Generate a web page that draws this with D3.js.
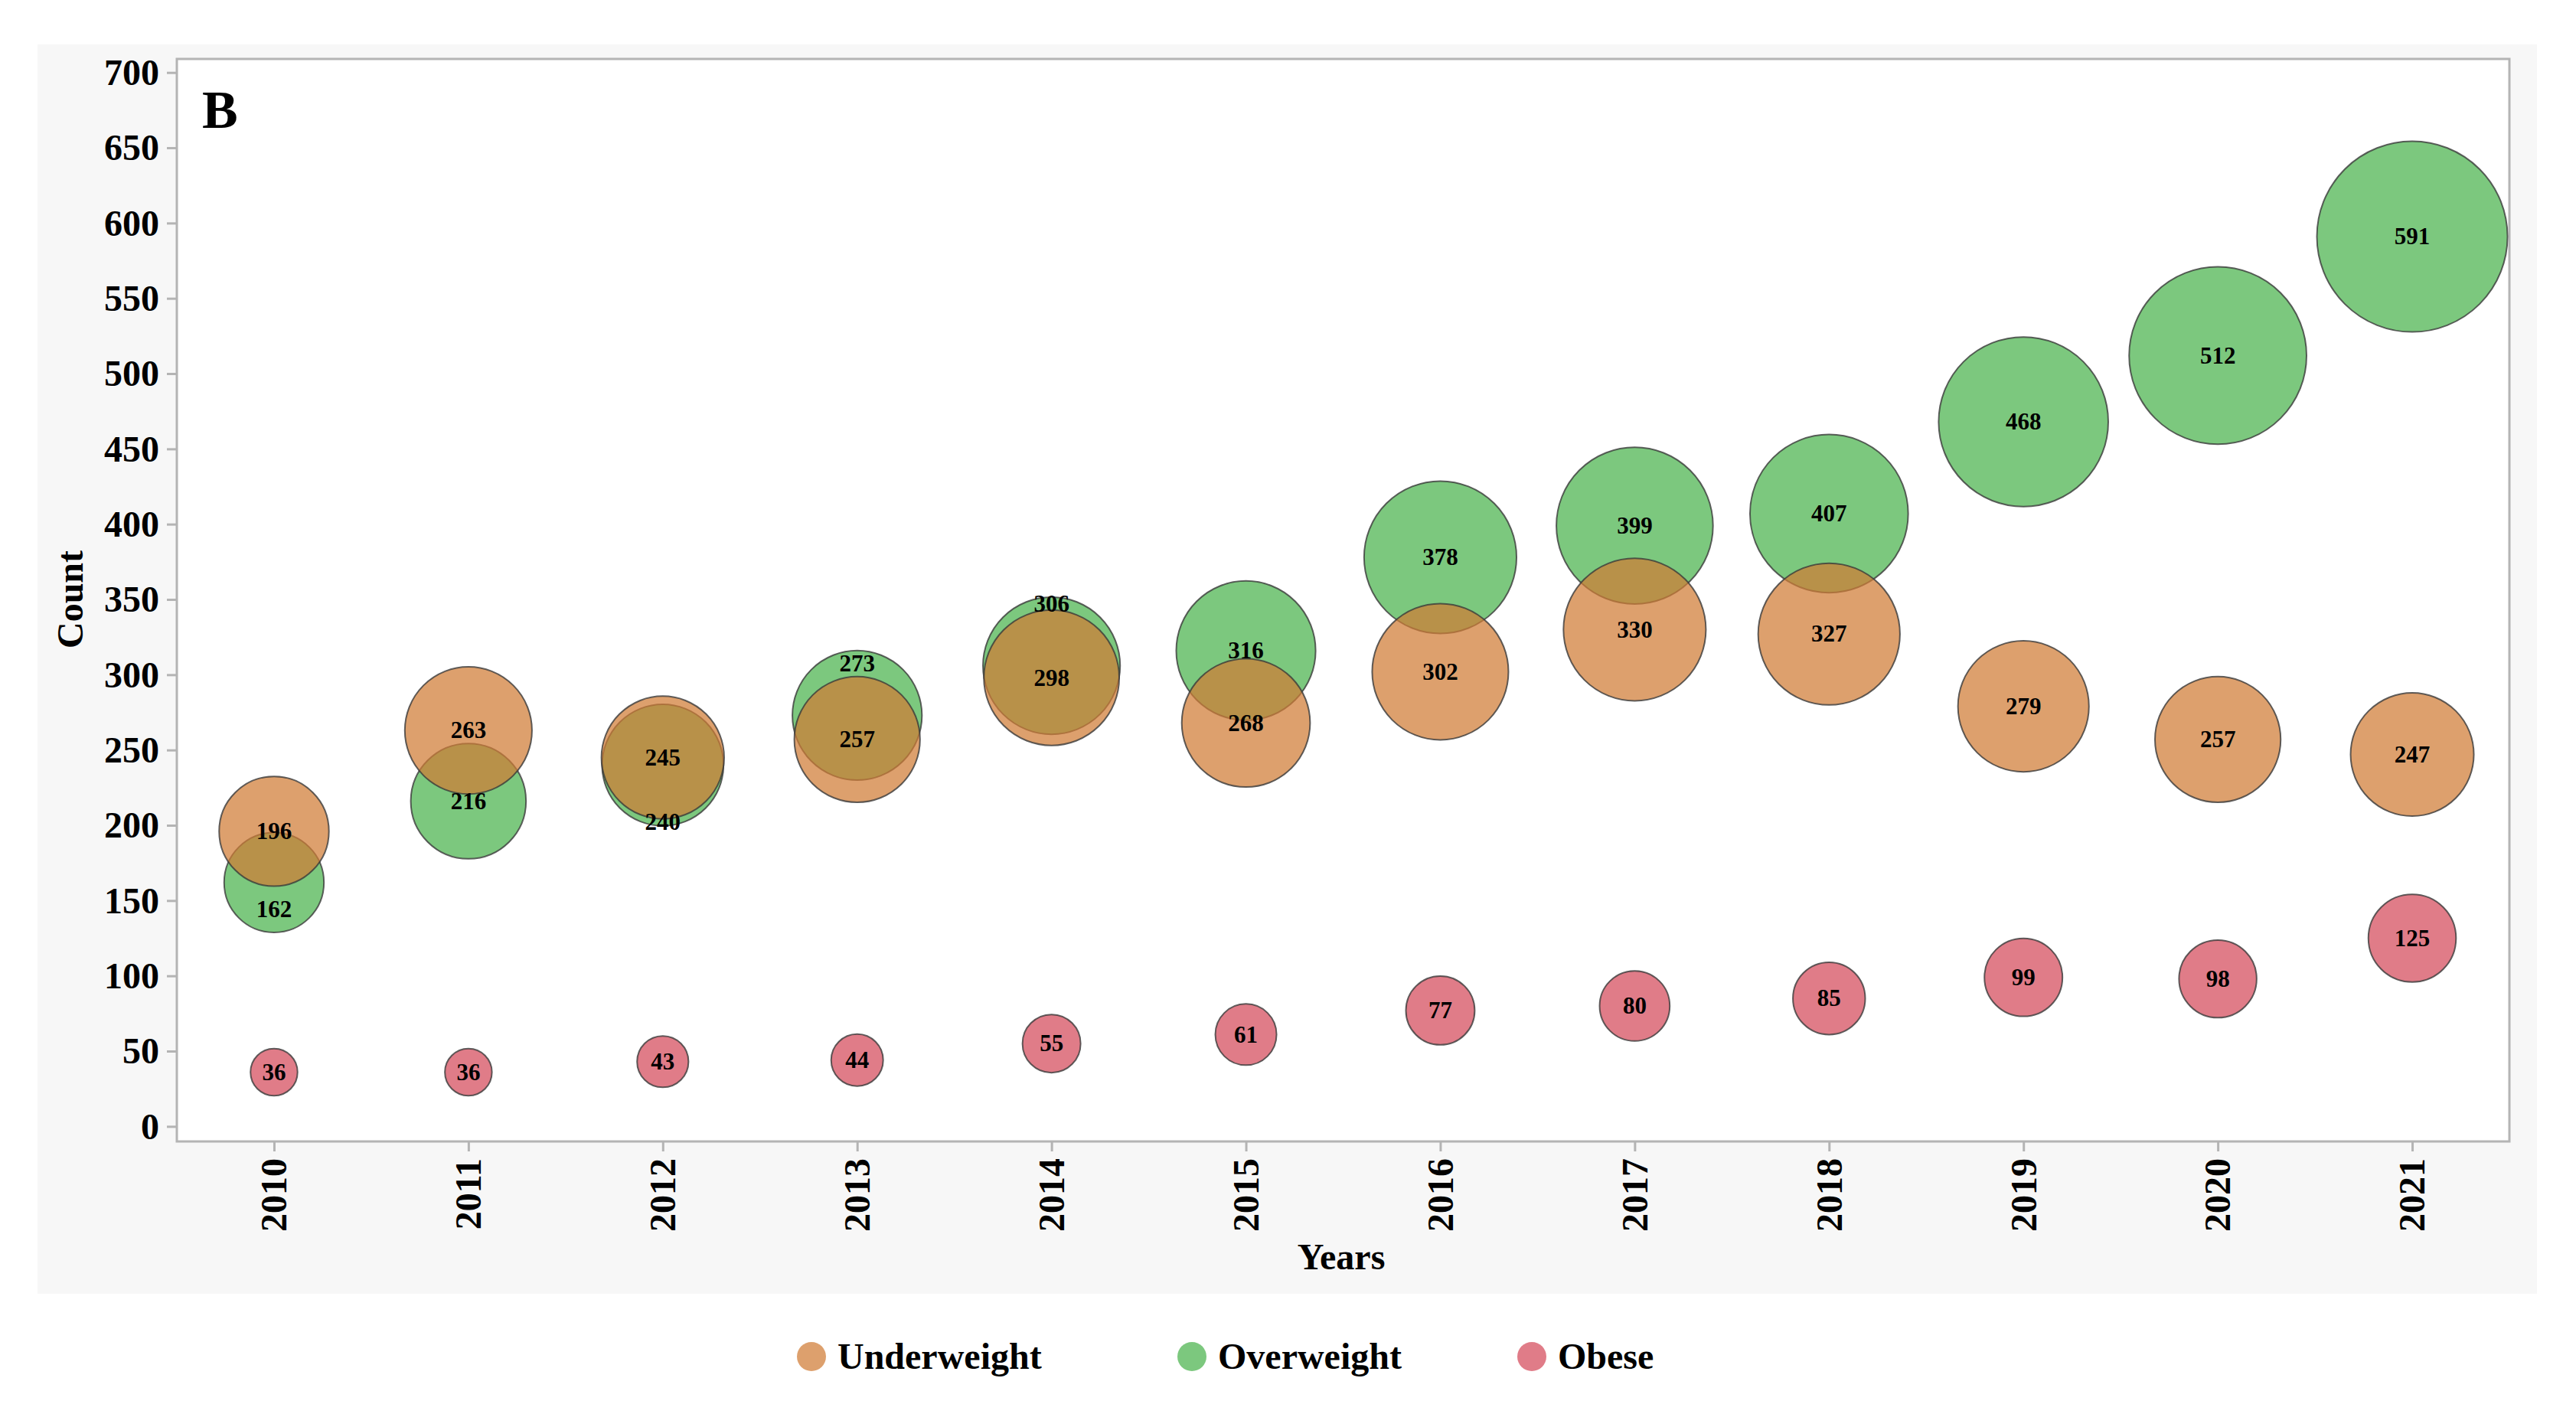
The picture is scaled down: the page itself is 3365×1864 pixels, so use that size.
<!DOCTYPE html>
<html>
<head>
<meta charset="utf-8">
<script src="https://cdn.jsdelivr.net/npm/d3@7"></script>
<style>
  body { margin: 0; background: #fff; }
  text { font-family: "Liberation Serif", "Times New Roman", serif; font-weight: bold; }
</style>
</head>
<body>
<div id="chart"></div>
<script>
// data
const years = [2010, 2011, 2012, 2013, 2014, 2015, 2016, 2017, 2018, 2019, 2020, 2021];
const underweight = [196, 263, 245, 257, 298, 268, 302, 330, 327, 279, 257, 247];
const overweight = [162, 216, 240, 273, 306, 316, 378, 399, 407, 468, 512, 591];
const obese = [36, 36, 43, 44, 55, 61, 77, 80, 85, 99, 98, 125];
const yTicks = [0, 50, 100, 150, 200, 250, 300, 350, 400, 450, 500, 550, 600, 650, 700];
const seriesNames = ["Underweight", "Overweight", "Obese"];

const W = 3365, H = 1864;
const frame = { left: 231, right: 3278, top: 77, bottom: 1491 };

const svg = d3.select("#chart").append("svg")
    .attr("width", W)
    .attr("height", H);

// grey panel + white plot area
svg.append("rect")
    .attr("x", 49).attr("y", 58)
    .attr("width", 3314 - 49).attr("height", 1690 - 58)
    .attr("fill", "#f7f7f7");

svg.append("rect")
    .attr("x", frame.left).attr("y", frame.top)
    .attr("width", frame.right - frame.left)
    .attr("height", frame.bottom - frame.top)
    .attr("fill", "#fff")
    .attr("stroke", "#b4b4b4")
    .attr("stroke-width", 3);

// scales
const x = d3.scaleLinear()
    .domain([2009.5, 2021.5])
    .range([frame.left, frame.right]);

const y = d3.scaleLinear()
    .domain([-10, 709])
    .range([frame.bottom, frame.top]);

const r = d3.scaleSqrt()
    .domain([0, 591])
    .range([0, 124.5]);

const color = d3.scaleOrdinal()
    .domain(seriesNames)
    .range(["rgb(208,123,52)", "rgb(74,179,76)", "rgb(212,73,90)"]);

// axes
const yAxis = svg.append("g")
    .attr("transform", `translate(${frame.left},0)`)
    .call(d3.axisLeft(y).tickValues(yTicks).tickSize(13).tickPadding(10));
yAxis.select(".domain").remove();
yAxis.selectAll("line").attr("stroke", "#b4b4b4").attr("stroke-width", 3);
yAxis.selectAll("text")
    .attr("font-size", 48)
    .attr("fill", "#000")
    .attr("dy", "0.33em");

const xAxis = svg.append("g")
    .attr("transform", `translate(0,${frame.bottom})`)
    .call(d3.axisBottom(x).tickValues(years).tickFormat(d3.format("d")).tickSize(13));
xAxis.select(".domain").remove();
xAxis.selectAll("line").attr("stroke", "#b4b4b4").attr("stroke-width", 3);
xAxis.selectAll("text")
    .attr("font-size", 48)
    .attr("fill", "#000")
    .attr("transform", "rotate(-90)")
    .attr("text-anchor", "end")
    .attr("x", -22)
    .attr("y", 0)
    .attr("dy", "0.33em");

// axis titles
svg.append("text")
    .attr("x", 1752)
    .attr("y", 1658)
    .attr("text-anchor", "middle")
    .attr("font-size", 48)
    .text("Years");

svg.append("text")
    .attr("transform", "translate(108,783) rotate(-90)")
    .attr("text-anchor", "middle")
    .attr("font-size", 48)
    .text("Count");

svg.append("text")
    .attr("x", 264)
    .attr("y", 167)
    .attr("font-size", 70)
    .text("B");

// bubbles: green underneath, orange over it, red apart
const rows = years.map((yr, i) => ({ year: yr, u: underweight[i], o: overweight[i], b: obese[i] }));

function bubbles(key, name) {
    svg.append("g").selectAll("circle")
        .data(rows)
        .enter()
        .append("circle")
        .attr("cx", d => x(d.year))
        .attr("cy", d => y(d[key]))
        .attr("r", d => r(d[key]))
        .attr("fill", color(name))
        .attr("fill-opacity", 0.72)
        .attr("stroke", "#3a3a3a")
        .attr("stroke-opacity", 0.8)
        .attr("stroke-width", 2);
}
bubbles("o", "Overweight");
bubbles("u", "Underweight");
bubbles("b", "Obese");

// labels; a green label that would sit on the orange one moves into the free crescent
function greenLabelY(d) {
    const cy = y(d.o);
    if (Math.abs(d.o - d.u) >= 40) return cy;
    if (d.o >= d.u) {
        return ((cy - r(d.o)) + (y(d.u) - r(d.u))) / 2;
    }
    return ((cy + r(d.o)) + (y(d.u) + r(d.u))) / 2;
}

const labels = svg.append("g")
    .attr("font-size", 31)
    .attr("text-anchor", "middle");

labels.selectAll(".lo")
    .data(rows).enter().append("text")
    .attr("x", d => x(d.year))
    .attr("y", d => greenLabelY(d))
    .attr("dy", "0.33em")
    .text(d => d.o);

labels.selectAll(".lu")
    .data(rows).enter().append("text")
    .attr("x", d => x(d.year))
    .attr("y", d => y(d.u))
    .attr("dy", "0.33em")
    .text(d => d.u);

labels.selectAll(".lb")
    .data(rows).enter().append("text")
    .attr("x", d => x(d.year))
    .attr("y", d => y(d.b))
    .attr("dy", "0.33em")
    .text(d => d.b);

// legend
const legendX = [1060, 1557, 2001];
const legend = svg.append("g");
seriesNames.forEach((name, i) => {
    legend.append("circle")
        .attr("cx", legendX[i])
        .attr("cy", 1772)
        .attr("r", 19)
        .attr("fill", color(name))
        .attr("fill-opacity", 0.72);
    legend.append("text")
        .attr("x", legendX[i] + 34)
        .attr("y", 1772)
        .attr("dy", "0.33em")
        .attr("font-size", 48)
        .text(name);
});
</script>
</body>
</html>
